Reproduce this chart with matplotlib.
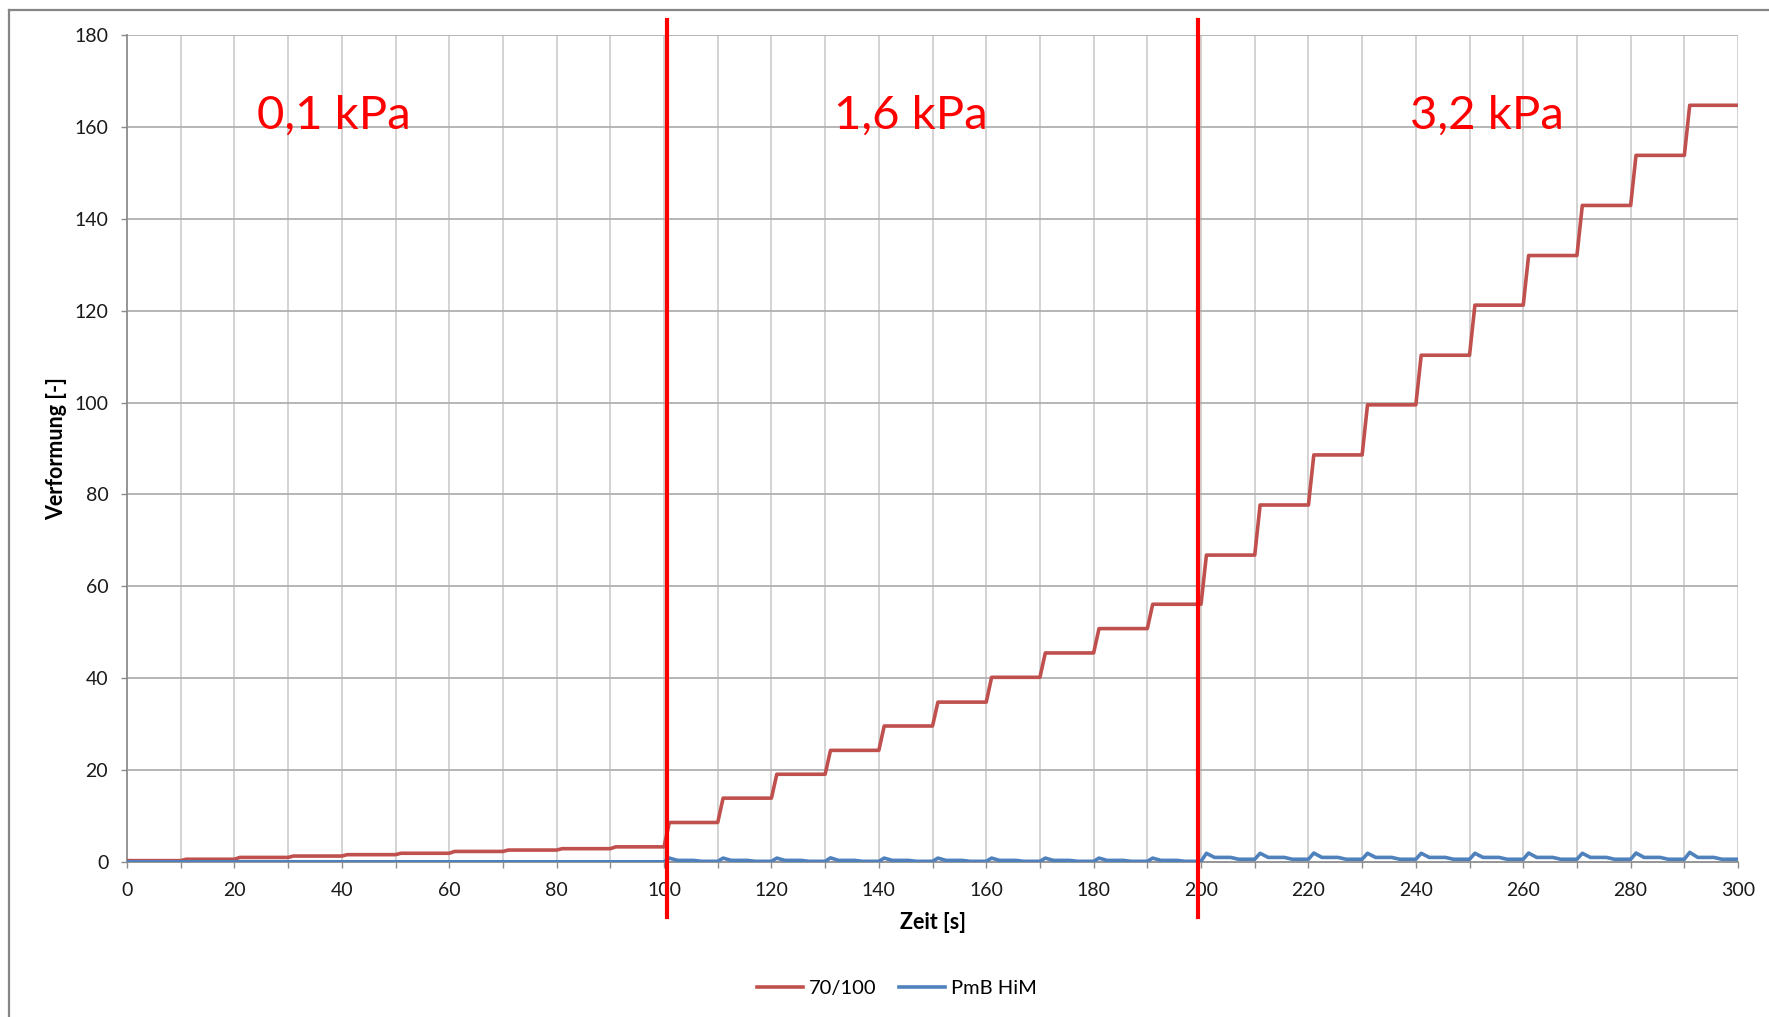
import matplotlib
matplotlib.use("Agg")
import matplotlib.pyplot as plt
from matplotlib.lines import Line2D

# Deformation levels of the 70/100 binder, one per 10 s load cycle
red_levels = [0.3, 0.6, 1.0, 1.3, 1.6, 1.9, 2.3, 2.6, 2.9, 3.3,
              8.6, 13.9, 19.1, 24.3, 29.6, 34.8, 40.2, 45.5, 50.8, 56.1,
              66.8, 77.7, 88.6, 99.5, 110.3, 121.2, 132.0, 142.9, 153.8, 164.7]

# PmB HiM: per cycle a short peak after loading, a plateau and the rest level
blue_peak = [0.05] * 10 + [0.85, 0.85, 0.85, 0.9, 0.85, 0.85, 0.85, 0.85, 0.85, 0.85] + \
            [1.9, 1.9, 1.95, 1.9, 1.9, 1.9, 1.95, 1.9, 1.95, 2.1]
blue_mid = [0.05] * 10 + [0.35] * 10 + [1.0] * 10
blue_base = [0.05] * 10 + [0.15] * 10 + [0.6] * 10
blue_offsets = [1.0, 2.5, 5.5, 7.0, 10.0]

cycle_len = 10
x_ticks = list(range(0, 301, 10))
x_labels = [str(v) if v % 20 == 0 else "" for v in x_ticks]
y_ticks = list(range(0, 181, 20))

phase_labels = ["0,1 kPa", "1,6 kPa", "3,2 kPa"]
phase_label_x = [38.6, 145.9, 253.2]
phase_label_y = 159.7
phase_bounds = [100.5, 199.5]

# Build the polylines from the cycle values
t_red, y_red = [0, cycle_len], [red_levels[0], red_levels[0]]
for k in range(1, len(red_levels)):
    t_red += [k * cycle_len + 1, k * cycle_len + cycle_len]
    y_red += [red_levels[k], red_levels[k]]

t_blue, y_blue = [0, cycle_len], [blue_base[0], blue_base[0]]
for k in range(1, len(blue_peak)):
    vals = [blue_peak[k], blue_mid[k], blue_mid[k], blue_base[k], blue_base[k]]
    for off, v in zip(blue_offsets, vals):
        t_blue.append(k * cycle_len + off)
        y_blue.append(v)

plt.rcParams['font.family'] = ['Lato', 'DejaVu Sans']

fig = plt.figure(figsize=(17.69, 10.17), dpi=100)
ax = fig.add_axes([0.0718, 0.1524, 0.9107, 0.8132])

RED = "#C0504D"
BLUE = "#4F81BD"
lw = 2.6

ax.plot(t_red, y_red, color=RED, lw=lw, solid_joinstyle="round", label="70/100", zorder=3)
ax.plot(t_blue, y_blue, color=BLUE, lw=lw, solid_joinstyle="round", label="PmB HiM", zorder=4)

ax.set_xlim(0, 300)
ax.set_ylim(0, 180)
ax.set_xticks(x_ticks)
ax.set_xticklabels(x_labels)
ax.set_yticks(y_ticks)

for v in x_ticks[1:]:
    ax.axvline(v, color="#D0D0D0", lw=1.3, zorder=1)
for v in y_ticks[1:]:
    ax.axhline(v, color="#B0B0B0", lw=1.3, zorder=1)

for s in ["top", "right"]:
    ax.spines[s].set_visible(False)
for s in ["left", "bottom"]:
    ax.spines[s].set_color("#8C8C8C")
    ax.spines[s].set_linewidth(1.3)

ax.tick_params(axis="both", direction="out", length=4.5, width=1.0, color="#8C8C8C",
               labelsize=14, labelcolor="#1a1a1a")
ax.tick_params(axis="x", pad=10)
ax.tick_params(axis="y", pad=9)

ax.set_xlabel("Zeit [s]", fontsize=15.5, fontweight="bold", labelpad=9)
ax.set_ylabel("Verformung [-]", fontsize=15.5, fontweight="bold", labelpad=5)

# Phase boundaries and pressure labels
for xb in phase_bounds:
    ax.plot([xb, xb], [183.2, -12.0], color="#FF0000", lw=3.0, clip_on=False, zorder=6)
for lab, xl in zip(phase_labels, phase_label_x):
    ax.text(xl, phase_label_y, lab, color="#FF0000", fontsize=34, ha="center", va="baseline",
            zorder=7)

# Outer chart frame (top and left edges)
fig.add_artist(Line2D([9 / 1769, 1.0], [1 - 10 / 1017, 1 - 10 / 1017], color="#868686",
                      lw=1.6, transform=fig.transFigure))
fig.add_artist(Line2D([9 / 1769, 9 / 1769], [1 - 10 / 1017, 0.0], color="#868686",
                      lw=1.6, transform=fig.transFigure))

fig.legend(loc="center", bbox_to_anchor=(0.507, 0.0285), ncol=2, frameon=False,
           fontsize=14.5, handlelength=2.3, handletextpad=0.3, columnspacing=1.1)

fig.savefig("out.png", dpi=100)
